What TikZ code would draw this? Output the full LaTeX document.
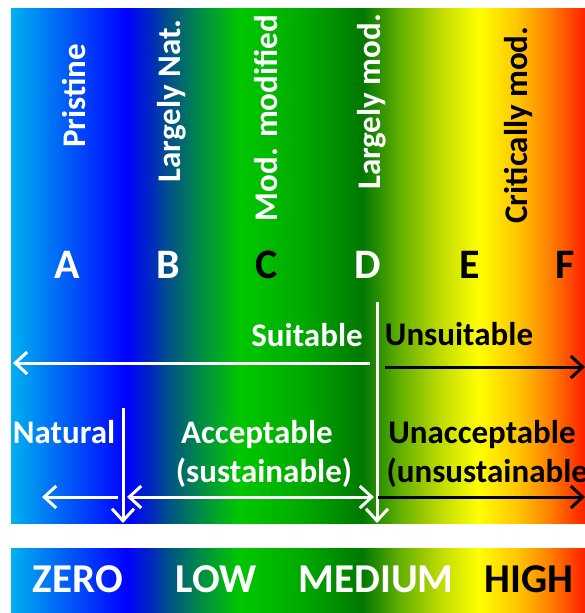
\documentclass[tikz,border=0pt]{standalone}
\usepackage{fontspec}
\setmainfont{Carlito}
\usetikzlibrary{arrows.meta, positioning}

\pgfdeclarehorizontalshading{classes}{100bp}{rgb(0bp)=(0,.69,.94); rgb(25bp)=(0,.69,.94);
  rgb(35.1bp)=(0,0,1); rgb(37.1bp)=(0,.15,.76); rgb(38.6bp)=(0,.31,.55);
  rgb(41.5bp)=(0,.55,.27); rgb(44.9bp)=(0,.78,0); rgb(50.2bp)=(0,.67,0);
  rgb(55.6bp)=(0,.47,0); rgb(58.9bp)=(.39,.69,0); rgb(62.4bp)=(.75,.86,0);
  rgb(65.7bp)=(1,1,0); rgb(69.3bp)=(1,.76,0); rgb(72.2bp)=(1,.47,0);
  rgb(75bp)=(1,.12,0); rgb(100bp)=(1,.12,0)}

\begin{document}
\begin{tikzpicture}[x=1pt, y=-1pt,
  vlabel/.style={rotate=90, anchor=base, text=white, font=\fontsize{33}{33}\selectfont\bfseries},
  hlabel/.style={anchor=base, text=white, font=\fontsize{33}{33}\selectfont\bfseries},
  cls/.style={anchor=base, text=white, font=\fontsize{42}{42}\selectfont\bfseries},
  level/.style={anchor=base, text=white, font=\fontsize{41}{41}\selectfont\bfseries},
  warrow/.style={draw=white, line width=3pt},
  barrow/.style={draw=black, line width=3pt},
  >={Straight Barb[length=12pt,width=22pt]}
]
  \useasboundingbox[fill=white] (0,0) rectangle (585,613);
  \shade[shading=classes] (11,8) rectangle (585,523);
  \shade[shading=classes] (11,548) rectangle (585,612);

  % class names
  \node[vlabel] (pristine) at (85,96)  {Pristine};
  \node[vlabel] (largenat) at (180,101) {Largely Nat.};
  \node[vlabel] (modmod)   at (277,118) {Mod. modified};
  \node[vlabel] (largemod) at (380,102) {Largely mod.};
  \node[vlabel, text=black] (critmod) at (527,125) {Critically mod.};

  \node[cls] (A) at (67,278)  {A};
  \node[cls] (B) at (168,278) {B};
  \node[cls, text=black] (C) at (267,278) {C};
  \node[cls] (D) at (368,278) {D};
  \node[cls, text=black] (E) at (470,278) {E};
  \node[cls, text=black] (F) at (565,278) {F};

  % suitability
  \node[hlabel] (suit) at (307,346) {Suitable};
  \node[hlabel, text=black] (unsuit) at (459,345) {Unsuitable};
  \node[hlabel] (natural) at (64,443) {Natural};
  \node[hlabel] (accept) at (257,443) {Acceptable};
  \node[hlabel] (sustain) at (264,482) {(sustainable)};
  \node[hlabel, text=black] (unaccept) at (482,443) {Unacceptable};
  \node[hlabel, text=black, anchor=base west] (unsustain) at (383,482) {(unsustainable)};

  \coordinate (dtop) at (377,302);
  \coordinate (dbot) at (377,523);
  \coordinate (btop) at (123,408);
  \coordinate (bbot) at (123,523);
  \coordinate (suitR) at (370,363);
  \coordinate (suitL) at (13,363);
  \coordinate (unsuitL) at (385,367);
  \coordinate (unsuitR) at (585,367);
  \coordinate (natR) at (118,497);
  \coordinate (natL) at (42,497);
  \coordinate (accL) at (127,497);
  \coordinate (accR) at (374,497);
  \coordinate (unaccL) at (378,497);
  \coordinate (unaccR) at (585,497);

  \draw[warrow, ->] (dtop) -- (dbot);
  \draw[warrow, ->] (btop) -- (bbot);
  \draw[warrow, ->] (suitR) -- (suitL);
  \draw[barrow, ->] (unsuitL) -- (unsuitR);
  \draw[warrow, ->] (natR) -- (natL);
  \draw[warrow, <->] (accL) -- (accR);
  \draw[barrow, ->] (unaccL) -- (unaccR);

  % levels
  \node[level] (zero) at (78,592)  {ZERO};
  \node[level] (low)  at (216,592) {LOW};
  \node[level] (med)  at (376,592) {MEDIUM};
  \node[level, text=black] (high) at (529,592) {HIGH};
\end{tikzpicture}
\end{document}
